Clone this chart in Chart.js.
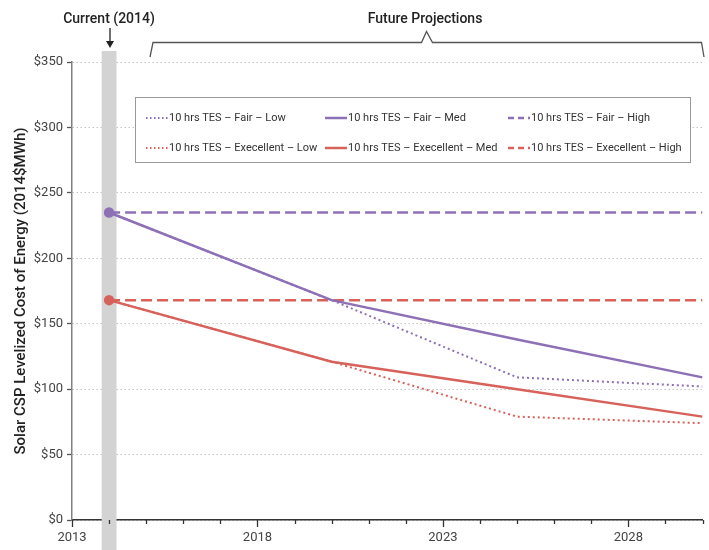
<!DOCTYPE html>
<html><head><meta charset="utf-8">
<script src="https://cdn.jsdelivr.net/npm/chart.js@4"></script>
<style>html,body{margin:0;padding:0;background:#fff}#wrap{width:709px;height:550px;position:relative}</style>
</head><body><div id="wrap"><canvas id="c" width="709" height="550"></canvas></div>
<script>
const years = [2014, 2020, 2025, 2030];
const fairLow = [235, 168, 109, 102];
const fairMed = [235, 168, 138, 109];
const fairHigh = [235, 235, 235, 235];
const excLow = [168, 121, 79, 74];
const excMed = [168, 121, 100, 79];
const excHigh = [168, 168, 168, 168];
const seriesLabels = ["10 hrs TES – Fair – Low","10 hrs TES – Fair – Med","10 hrs TES – Fair – High","10 hrs TES – Execellent – Low","10 hrs TES – Execellent – Med","10 hrs TES – Execellent – High"];
const yTicks = [0,50,100,150,200,250,300,350];
const xLabelYears = [2013, 2018, 2023, 2028];
const currentYear = 2014;

const PURPLE = '#8d70b5', RED = '#d7625b';
const FONT = 'Roboto, "Open Sans", sans-serif';
const pts = arr => years.map((y,i)=>({x:y,y:arr[i]}));
const mk = (label, arr, color, dash, width, radius) => ({
  label, data: pts(arr), borderColor: color, backgroundColor: color, borderDash: dash,
  borderWidth: width, pointRadius: radius, pointHoverRadius: 0, tension: 0, fill: false
});
const datasets = [
  mk(seriesLabels[0], fairLow, PURPLE, [2,3], 2, 0),
  mk(seriesLabels[1], fairMed, PURPLE, [], 2.5, [4,0,0,0]),
  mk(seriesLabels[2], fairHigh, PURPLE, [11,5], 2.5, 0),
  mk(seriesLabels[3], excLow, RED, [2,3], 2, 0),
  mk(seriesLabels[4], excMed, RED, [], 2.5, [4,0,0,0]),
  mk(seriesLabels[5], excHigh, RED, [11,5], 2.5, 0),
];

const decor = {
  id: 'decor',
  beforeDatasetsDraw(chart) {
    const ctx = chart.ctx, x = chart.scales.x;
    const l = x.getPixelForValue(currentYear - 0.2), r = x.getPixelForValue(currentYear + 0.2);
    ctx.save(); ctx.fillStyle = '#d3d3d3'; ctx.fillRect(l, 51, r - l, 550 - 51); ctx.restore();
  },
  afterDraw(chart) {
    const ctx = chart.ctx, x = chart.scales.x, ca = chart.chartArea;
    ctx.save();
    // x ticks
    ctx.strokeStyle = '#333'; ctx.lineWidth = 1.3;
    for (let v = x.min; v <= x.max; v++) {
      const px = Math.round(x.getPixelForValue(v)) + 0.5;
      const major = xLabelYears.includes(v);
      ctx.beginPath(); ctx.moveTo(px, ca.bottom); ctx.lineTo(px, ca.bottom + (major ? 7 : 4)); ctx.stroke();
    }
    // legend
    const lx = 135.5, ly = 97.5, lw = 555, lh = 65;
    ctx.fillStyle = '#fff'; ctx.fillRect(lx, ly, lw, lh);
    ctx.strokeStyle = '#999'; ctx.lineWidth = 1; ctx.strokeRect(lx, ly, lw, lh);
    const cols = [146, 325, 508], rows = [118, 148];
    ctx.font = '11px ' + FONT; ctx.textBaseline = 'middle'; ctx.textAlign = 'left';
    chart.data.datasets.forEach((ds, i) => {
      const cx = cols[i % 3], cy = rows[Math.floor(i / 3)];
      ctx.strokeStyle = ds.borderColor; ctx.lineWidth = ds.borderWidth;
      ctx.setLineDash(ds.borderDash.length ? (ds.borderDash[0] > 5 ? [6,4] : [1.5,2.5]) : []);
      ctx.beginPath(); ctx.moveTo(cx, cy); ctx.lineTo(cx + 22, cy); ctx.stroke();
      ctx.setLineDash([]);
      ctx.fillStyle = '#333'; ctx.fillText(ds.label, cx + 23, cy + 0.5);
    });
    // annotations
    ctx.fillStyle = '#222'; ctx.textAlign = 'center';
    ctx.font = '500 14px ' + FONT;
    ctx.fillText('Current (2014)', 109, 19);
    ctx.fillText('Future Projections', 425, 19);
    ctx.strokeStyle = '#222'; ctx.lineWidth = 1.3;
    ctx.beginPath(); ctx.moveTo(110, 28); ctx.lineTo(110, 42); ctx.stroke();
    ctx.beginPath(); ctx.moveTo(106, 41); ctx.lineTo(114, 41); ctx.lineTo(110, 48); ctx.closePath(); ctx.fill();
    ctx.strokeStyle = '#555'; ctx.lineWidth = 1.3;
    ctx.beginPath();
    ctx.moveTo(150, 57); ctx.lineTo(153, 42.5); ctx.lineTo(421.5, 42.5); ctx.lineTo(426.5, 31.5);
    ctx.lineTo(432.5, 42.5); ctx.lineTo(701.5, 42.5); ctx.lineTo(704, 57);
    ctx.stroke();
    ctx.restore();
  }
};

new Chart(document.getElementById('c'), {
  type: 'line',
  data: { datasets },
  options: {
    responsive: false, animation: false,
    layout: { padding: { top: 62, right: 4, left: 0, bottom: 0 } },
    plugins: { legend: { display: false }, tooltip: { enabled: false } },
    scales: {
      x: {
        type: 'linear', min: 2013, max: 2030,
        afterFit: s => { s.height = 30; s.paddingLeft = 0; s.paddingRight = 0; },
        grid: { display: true, drawOnChartArea: false, drawTicks: false },
        border: { display: true, color: '#333', width: 1.5 },
        ticks: { stepSize: 1, autoSkip: false, maxRotation: 0, padding: 10, color: '#444',
          font: { family: FONT, size: 13 },
          callback: v => xLabelYears.includes(v) ? String(v) : '' }
      },
      y: {
        min: 0, max: 350,
        afterFit: s => { s.width = 72; s.paddingTop = 0; s.paddingBottom = 0; },
        afterBuildTicks: s => { s.ticks = yTicks.map(v => ({ value: v })); },
        grid: { color: '#c4c4c4', lineWidth: 1, tickLength: 5, tickColor: '#555', tickWidth: 1.3 },
        border: { display: true, color: '#808080', width: 1.5, dash: [1.5, 2.5] },
        ticks: { padding: 4, color: '#444', font: { family: FONT, size: 13 }, callback: v => '$' + v },
        title: { display: true, text: 'Solar CSP Levelized Cost of Energy (2014$MWh)', color: '#222',
          font: { family: FONT, size: 15, weight: '500' }, padding: { top: 12, bottom: 0 } }
      }
    }
  },
  plugins: [decor]
});
</script></body></html>
